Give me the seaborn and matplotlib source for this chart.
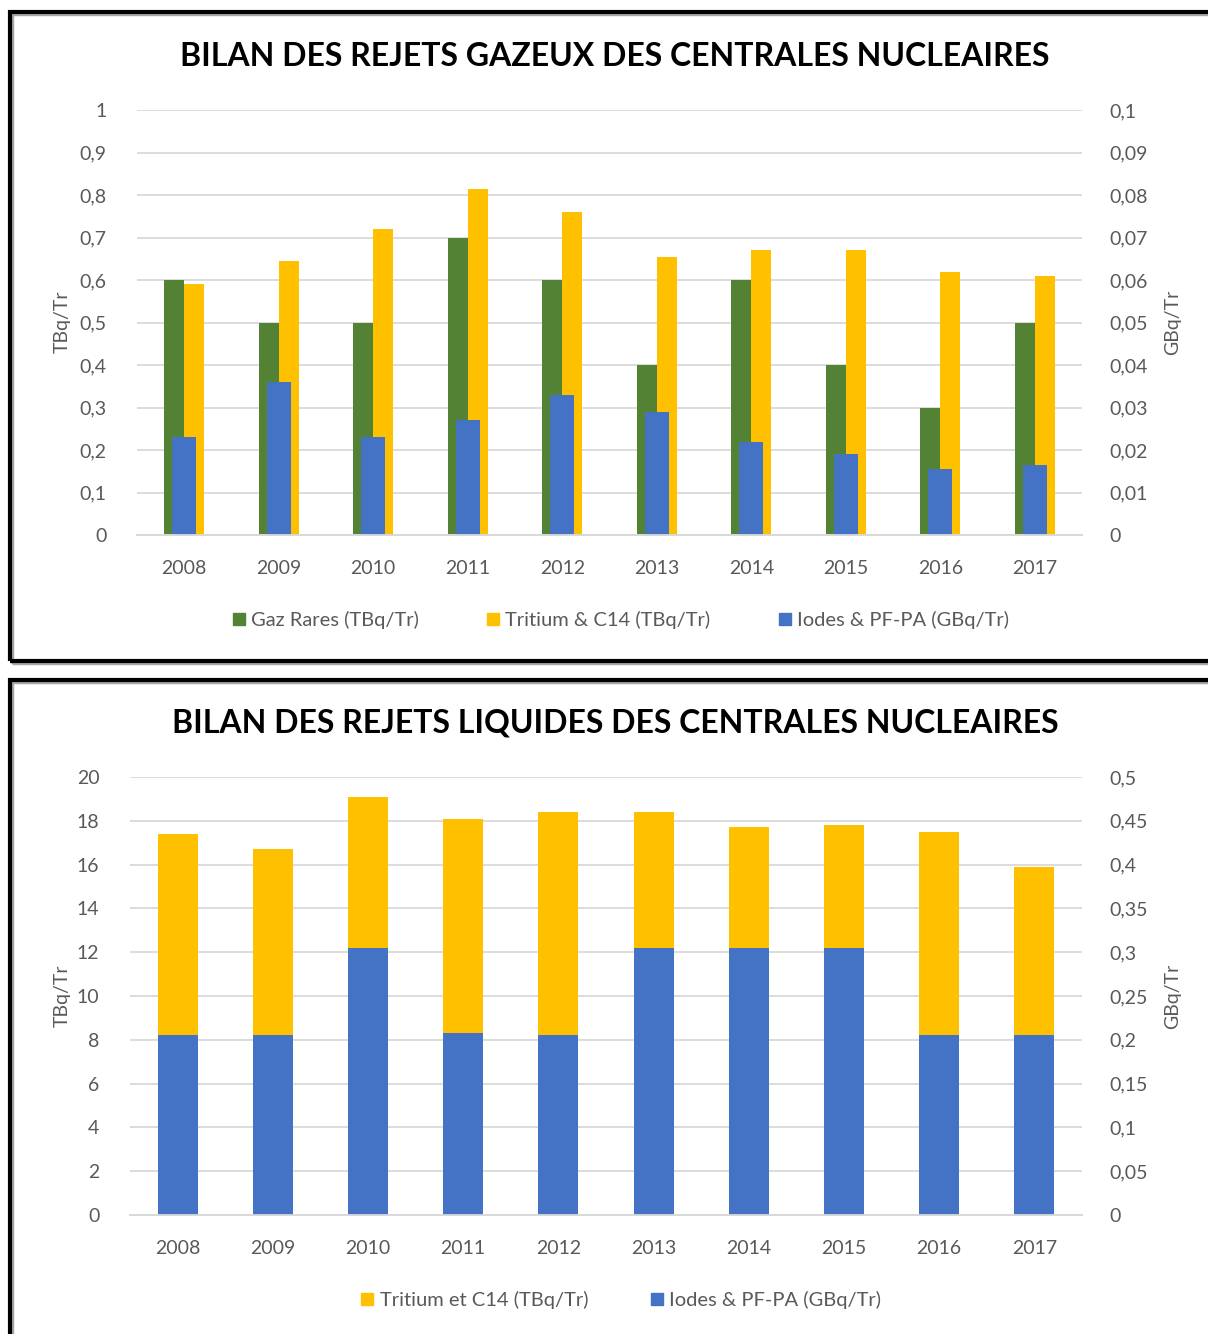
import numpy as np
import pandas as pd
import matplotlib
matplotlib.use('Agg')
import matplotlib.pyplot as plt
import seaborn as sns
from matplotlib.ticker import FuncFormatter, FixedLocator
from matplotlib.lines import Line2D
from matplotlib.patches import Rectangle

years = ['2008', '2009', '2010', '2011', '2012', '2013', '2014', '2015', '2016', '2017']

# gaseous releases
gaz_rares = [0.6, 0.5, 0.5, 0.7, 0.6, 0.4, 0.6, 0.4, 0.3, 0.5]
tritium_gaz = [0.59, 0.645, 0.72, 0.815, 0.76, 0.655, 0.67, 0.67, 0.62, 0.61]
iodes_gaz = [0.023, 0.036, 0.023, 0.027, 0.033, 0.029, 0.022, 0.019, 0.0155, 0.0165]

# liquid releases
tritium_liq = [17.4, 16.7, 19.1, 18.1, 18.4, 18.4, 17.7, 17.8, 17.5, 15.9]
iodes_liq = [0.205, 0.205, 0.305, 0.208, 0.205, 0.305, 0.305, 0.305, 0.205, 0.205]

GREEN = '#548235'
YELLOW = '#FFC000'
BLUE = '#4472C4'
GRID = '#D9D9D9'
TXT = '#595959'

sns.set_style('white')
plt.rcParams['font.family'] = ['Lato', 'DejaVu Sans']

W, H = 1208, 1334
fig = plt.figure(figsize=(W / 100, H / 100), dpi=100)


def fx(px):
    return px / W


def fy(py):
    return 1 - py / H


comma = FuncFormatter(lambda v, p: f"{v:g}".replace('.', ','))


def style_axes(ax, ax2, ymax, ymax2, step, step2, minor_ticks):
    ax.set_ylim(0, ymax)
    ax2.set_ylim(0, ymax2)
    ax.yaxis.set_major_locator(FixedLocator(np.arange(0, ymax + step / 2, step)))
    ax2.yaxis.set_major_locator(FixedLocator(np.arange(0, ymax2 + step2 / 2, step2)))
    ax.yaxis.set_major_formatter(comma)
    ax2.yaxis.set_major_formatter(comma)
    ax.set_axisbelow(True)
    ax.grid(axis='y', color=GRID, lw=1.3)
    ax.grid(axis='x', visible=False)
    for a in (ax, ax2):
        for s in ['top', 'left', 'right']:
            a.spines[s].set_visible(False)
        a.spines['bottom'].set_color(GRID)
        a.spines['bottom'].set_linewidth(1.3)
        a.set_xlabel('')
        a.set_ylabel('')
    ax.tick_params(axis='y', length=0, labelsize=14, labelcolor=TXT, pad=22)
    ax2.tick_params(axis='y', length=0, labelsize=14, labelcolor=TXT, pad=20)
    ax.tick_params(axis='x', which='major', length=0, labelsize=14, labelcolor=TXT, pad=18)
    ax2.tick_params(axis='x', length=0)
    if minor_ticks:
        ax.set_xticks(np.arange(-0.5, len(years), 1), minor=True)
        ax.tick_params(axis='x', which='minor', length=7, color=GRID, width=1.3)


# ---------- top chart ----------
ax1 = fig.add_axes([fx(137), fy(535), fx(945), 425 / H])
df_top = pd.DataFrame({
    'year': years * 2,
    'serie': ['Gaz Rares (TBq/Tr)'] * 10 + ['Tritium & C14 (TBq/Tr)'] * 10,
    'val': gaz_rares + tritium_gaz,
})
sns.barplot(data=df_top, x='year', y='val', hue='serie', palette=[GREEN, YELLOW],
            width=0.42, saturation=1, linewidth=0, legend=False, ax=ax1)
ax1b = ax1.twinx()
sns.barplot(x=years, y=iodes_gaz, color=BLUE, width=0.25, saturation=1,
            linewidth=0, ax=ax1b)
style_axes(ax1, ax1b, 1.0, 0.1, 0.1, 0.01, True)
ax1b.set_xlim(ax1.get_xlim())

fig.text(fx(615), fy(56), 'BILAN DES REJETS GAZEUX DES CENTRALES NUCLEAIRES',
         ha='center', va='center', fontsize=23, fontweight='bold', color='black')
fig.text(fx(62), fy(322), 'TBq/Tr', rotation=90, ha='center', va='center',
         fontsize=14, color=TXT)
fig.text(fx(1173), fy(322), 'GBq/Tr', rotation=90, ha='center', va='center',
         fontsize=14, color=TXT)

h_top = [Line2D([], [], marker='s', ls='', color=c, markersize=9)
         for c in (GREEN, YELLOW, BLUE)]
ax1.legend(h_top, ['Gaz Rares (TBq/Tr)', 'Tritium & C14 (TBq/Tr)', 'Iodes & PF-PA (GBq/Tr)'],
           loc='center', bbox_to_anchor=(fx(620), fy(620)), bbox_transform=fig.transFigure,
           ncol=3, frameon=False, fontsize=14.5, labelcolor=TXT, handlelength=0.8,
           handletextpad=0.2, columnspacing=3.3)

# ---------- bottom chart ----------
ax2 = fig.add_axes([fx(130), fy(1215), fx(952), 438 / H])
sns.barplot(x=years, y=tritium_liq, color=YELLOW, width=0.42, saturation=1,
            linewidth=0, ax=ax2)
ax2b = ax2.twinx()
sns.barplot(x=years, y=iodes_liq, color=BLUE, width=0.42, saturation=1,
            linewidth=0, ax=ax2b)
style_axes(ax2, ax2b, 20, 0.5, 2, 0.05, False)
ax2b.set_xlim(ax2.get_xlim())

fig.text(fx(615), fy(723), 'BILAN DES REJETS LIQUIDES DES CENTRALES NUCLEAIRES',
         ha='center', va='center', fontsize=23, fontweight='bold', color='black')
fig.text(fx(62), fy(996), 'TBq/Tr', rotation=90, ha='center', va='center',
         fontsize=14, color=TXT)
fig.text(fx(1173), fy(996), 'GBq/Tr', rotation=90, ha='center', va='center',
         fontsize=14, color=TXT)

h_bot = [Line2D([], [], marker='s', ls='', color=c, markersize=9) for c in (YELLOW, BLUE)]
ax2.legend(h_bot, ['Tritium et C14 (TBq/Tr)', 'Iodes & PF-PA (GBq/Tr)'],
           loc='center', bbox_to_anchor=(fx(620), fy(1300)), bbox_transform=fig.transFigure,
           ncol=2, frameon=False, fontsize=14.5, labelcolor=TXT, handlelength=0.8,
           handletextpad=0.2, columnspacing=3.0)

# ---------- frames around each chart ----------
for (x0, y0, x1, y1) in [(10, 12, 1220, 661), (10, 680, 1220, 1345)]:
    fig.add_artist(Rectangle((fx(x0) + 0.0015, fy(y1) - 0.0015), fx(x1 - x0), (y1 - y0) / H,
                             transform=fig.transFigure, fill=False, ec='#A6A6A6', lw=2.5))
    fig.add_artist(Rectangle((fx(x0), fy(y1)), fx(x1 - x0), (y1 - y0) / H,
                             transform=fig.transFigure, fill=False, ec='black', lw=3))

fig.savefig('out.png', dpi=100, facecolor='white')
